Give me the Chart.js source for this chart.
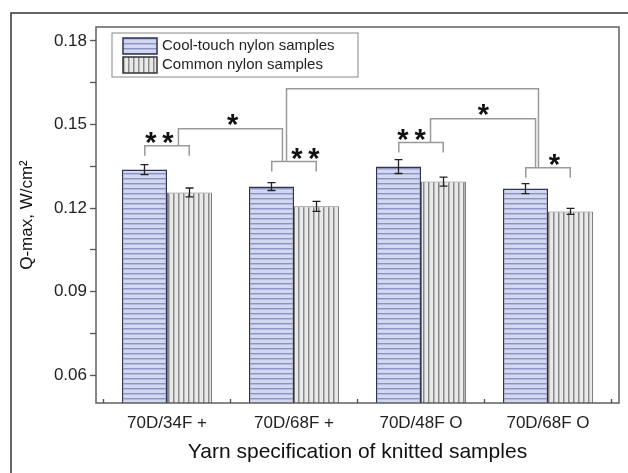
<!DOCTYPE html>
<html>
<head>
<meta charset="utf-8">
<script src="https://cdn.jsdelivr.net/npm/chart.js@4"></script>
<style>
  body { margin: 0; background: #fff; }
  #wrap { width: 628px; height: 473px; }
</style>
</head>
<body>
<div id="wrap"><canvas id="myChart"></canvas></div>
<script>
const categories = ['70D/34F +', '70D/68F +', '70D/48F O', '70D/68F O'];
const coolTouch = [0.1338, 0.1277, 0.1349, 0.1270];
const coolErr = [0.0018, 0.0014, 0.0025, 0.0018];
const common = [0.1256, 0.1206, 0.1295, 0.1188];
const commonErr = [0.0016, 0.0018, 0.0016, 0.0011];
const yTicks = [0.06, 0.075, 0.09, 0.105, 0.12, 0.135, 0.15, 0.165, 0.18];

// significance brackets, in axis units (x = category index, y = Q-max)
const brackets = [
  { x: [-0.175, 0.175], top: 0.1424, ends: [0.1388, 0.1388], label: '*\u2009*', at: [-0.06, 0.1453] },
  { x: [0.09, 0.909], top: 0.1485, ends: [0.1424, 0.1367], label: '*', at: [0.516, 0.1517] },
  { x: [0.825, 1.175], top: 0.1367, ends: [0.1331, 0.1331], label: '*\u2009*', at: [1.09, 0.1395] },
  { x: [0.941, 2.925], top: 0.1628, ends: [0.1367, 0.1345], label: '', at: null },
  { x: [1.825, 2.175], top: 0.1435, ends: [0.1399, 0.1399], label: '*\u2009*', at: [1.925, 0.1463] },
  { x: [2.075, 2.902], top: 0.1521, ends: [0.1435, 0.1345], label: '*', at: [2.492, 0.1553] },
  { x: [2.825, 3.175], top: 0.1345, ends: [0.1309, 0.1309], label: '*', at: [3.051, 0.1374] }
];

function stripes(horizontal) {
  const c = document.createElement('canvas');
  c.width = 5; c.height = 5;
  const g = c.getContext('2d');
  if (horizontal) {
    g.fillStyle = '#d3d8f1'; g.fillRect(0, 0, 5, 5);
    g.fillStyle = '#8c93bf'; g.fillRect(0, 3, 5, 1);
    g.fillStyle = '#b5bbe0'; g.fillRect(0, 4, 5, 1);
  } else {
    g.fillStyle = '#e9e9e9'; g.fillRect(0, 0, 5, 5);
    g.fillStyle = '#8a8a8a'; g.fillRect(3, 0, 1, 5);
    g.fillStyle = '#b8b8b8'; g.fillRect(4, 0, 1, 5);
  }
  return g.createPattern(c, 'repeat');
}
const coolFill = stripes(true);
const commonFill = stripes(false);

const extras = {
  id: 'extras',
  afterDatasetsDraw(chart) {
    const ctx = chart.ctx;
    const xs = chart.scales.x, ys = chart.scales.y;
    const errs = [coolErr, commonErr];
    const vals = [coolTouch, common];
    ctx.save();
    // error bars
    ctx.strokeStyle = '#222';
    ctx.lineWidth = 1.3;
    for (let d = 0; d < 2; d++) {
      chart.getDatasetMeta(d).data.forEach((bar, j) => {
        const hi = ys.getPixelForValue(vals[d][j] + errs[d][j]);
        const lo = ys.getPixelForValue(vals[d][j] - errs[d][j]);
        ctx.beginPath();
        ctx.moveTo(bar.x, hi); ctx.lineTo(bar.x, lo);
        ctx.moveTo(bar.x - 4, hi); ctx.lineTo(bar.x + 4, hi);
        ctx.moveTo(bar.x - 4, lo); ctx.lineTo(bar.x + 4, lo);
        ctx.stroke();
      });
    }
    // brackets
    ctx.strokeStyle = '#9a9a9a';
    ctx.lineWidth = 1.5;
    brackets.forEach(b => {
      const x1 = xs.getPixelForValue(b.x[0]), x2 = xs.getPixelForValue(b.x[1]);
      const t = ys.getPixelForValue(b.top);
      ctx.beginPath();
      ctx.moveTo(x1, ys.getPixelForValue(b.ends[0]));
      ctx.lineTo(x1, t); ctx.lineTo(x2, t);
      ctx.lineTo(x2, ys.getPixelForValue(b.ends[1]));
      ctx.stroke();
    });
    const size = 29;
    ctx.fillStyle = '#111';
    ctx.font = 'bold ' + size + 'px "Liberation Sans"';
    ctx.textAlign = 'center';
    ctx.textBaseline = 'alphabetic';
    brackets.forEach(b => {
      if (!b.label) return;
      ctx.fillText(b.label, xs.getPixelForValue(b.at[0]), ys.getPixelForValue(b.at[1]) + size * 0.5);
    });
    ctx.restore();
  },
  afterDraw(chart) {
    const ctx = chart.ctx;
    const a = chart.chartArea;
    const xs = chart.scales.x;
    ctx.save();
    // plot frame
    ctx.strokeStyle = '#555';
    ctx.lineWidth = 1.4;
    ctx.strokeRect(a.left, a.top, a.right - a.left, a.bottom - a.top);
    // inward x ticks between categories
    ctx.beginPath();
    [-0.5, 0.5, 1.5, 2.5, 3.5].forEach(v => {
      const px = xs.getPixelForValue(v);
      ctx.moveTo(px, a.bottom); ctx.lineTo(px, a.bottom - 4);
    });
    ctx.stroke();
    // legend
    const lx = 112, ly = 33;
    ctx.strokeStyle = '#888';
    ctx.lineWidth = 1;
    ctx.strokeRect(lx, ly, 246, 44);
    const fills = [coolFill, commonFill];
    const edges = ['#2e3452', '#333'];
    chart.data.datasets.forEach((ds, i) => {
      const sy = ly + 5 + i * 19;
      ctx.fillStyle = fills[i];
      ctx.fillRect(lx + 11, sy, 34, 16);
      ctx.strokeStyle = edges[i];
      ctx.lineWidth = 1.5;
      ctx.strokeRect(lx + 11, sy, 34, 16);
      ctx.fillStyle = '#222';
      ctx.font = '15px "Liberation Sans"';
      ctx.textAlign = 'left';
      ctx.textBaseline = 'middle';
      ctx.fillText(ds.label, lx + 50, sy + 8);
    });
    // outer figure border (cropped at right / bottom)
    ctx.strokeStyle = '#333';
    ctx.lineWidth = 1.5;
    ctx.beginPath();
    ctx.moveTo(11, 473); ctx.lineTo(11, 13); ctx.lineTo(628, 13);
    ctx.stroke();
    ctx.restore();
  }
};

const config = {
  type: 'bar',
  data: {
    datasets: [{
      label: 'Cool-touch nylon samples',
      data: coolTouch.map((v, i) => ({ x: i, y: v })),
      backgroundColor: coolFill,
      borderColor: '#2e3452',
      borderWidth: 1.5,
      borderSkipped: false
    },
    {
      label: 'Common nylon samples',
      data: common.map((v, i) => ({ x: i, y: v })),
      backgroundColor: commonFill,
      borderColor: '#7a7a7a',
      borderWidth: 1,
      borderSkipped: false
    }]
  },
  options: {
    responsive: true,
    maintainAspectRatio: false,
    animation: false,
    devicePixelRatio: 1,
    categoryPercentage: 0.709,
    barPercentage: 1.0,
    layout: { padding: { left: 0, right: 9, top: 27, bottom: 0 } },
    plugins: { legend: { display: false }, tooltip: { enabled: false } },
    scales: {
      x: {
        type: 'linear',
        offset: false,
        min: -0.559,
        max: 3.559,
        afterBuildTicks: s => { s.ticks = categories.map((c, i) => ({ value: i })); },
        afterFit: s => { s.height = 70; },
        grid: { display: false, drawTicks: false, offset: false },
        border: { display: false },
        ticks: {
          padding: 10,
          color: '#222',
          font: { family: 'Liberation Sans', size: 17 },
          maxRotation: 0,
          autoSkip: false,
          callback: v => categories[v]
        },
        title: {
          display: true,
          text: 'Yarn specification of knitted samples',
          color: '#111',
          font: { family: 'Liberation Sans', size: 21 },
          padding: { top: 8, bottom: 8 }
        }
      },
      y: {
        min: 0.05,
        max: 0.185,
        afterBuildTicks: s => { s.ticks = yTicks.map(v => ({ value: v })); },
        afterFit: s => { s.width = 96; },
        grid: { drawOnChartArea: false, tickLength: 6, color: '#555', tickWidth: 1.3 },
        border: { display: false },
        ticks: {
          padding: 3,
          color: '#222',
          font: { family: 'Liberation Sans', size: 17 },
          callback: v => (Math.round(v * 1000) % 30 === 0 ? v.toFixed(2) : '')
        },
        title: {
          display: true,
          text: 'Q-max, W/cm²',
          color: '#111',
          font: { family: 'Liberation Sans', size: 17 },
          padding: { top: 17, bottom: 17 }
        }
      }
    }
  },
  plugins: [extras]
};

const myChart = new Chart(document.getElementById('myChart'), config);
</script>
</body>
</html>
